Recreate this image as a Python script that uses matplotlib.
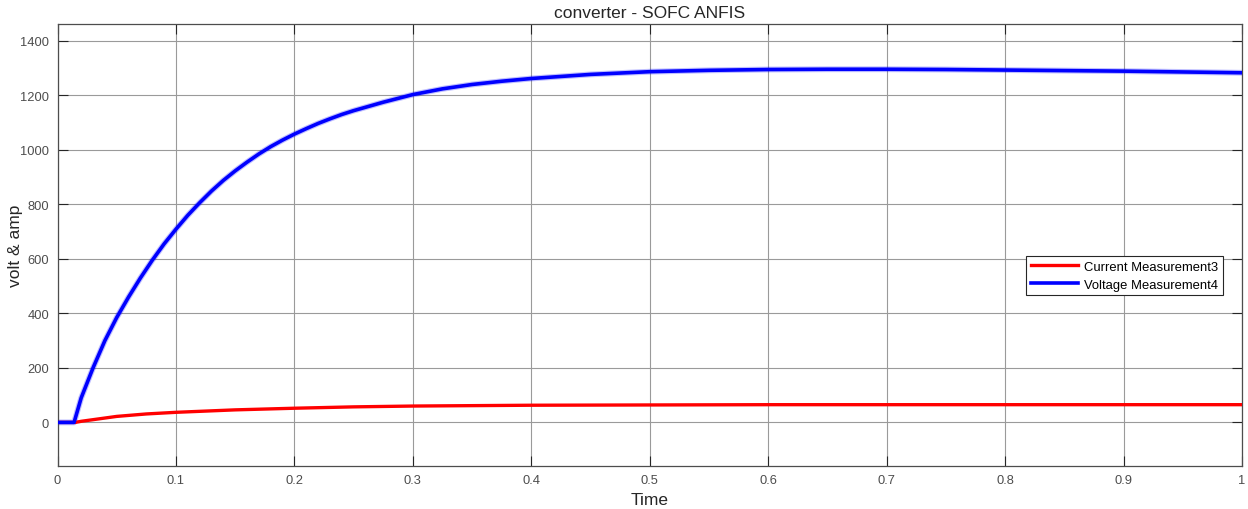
import matplotlib
matplotlib.use("Agg")
import matplotlib.pyplot as plt

# ---- data ----
t_voltage = [0.0, 0.014, 0.02, 0.03, 0.04, 0.05, 0.06, 0.07, 0.08, 0.09, 0.1,
             0.11, 0.12, 0.13, 0.14, 0.15, 0.16, 0.17, 0.18, 0.19, 0.2,
             0.21, 0.22, 0.23, 0.24, 0.25, 0.275, 0.3, 0.325, 0.35, 0.375, 0.4,
             0.45, 0.5, 0.55, 0.6, 0.65, 0.7, 0.75, 0.8, 0.85, 0.9, 0.95, 1.0]
voltage = [0.0, 0.0, 90, 200, 300, 385, 460, 530, 595, 655, 709,
           760, 806, 849, 888, 923, 955, 985, 1012, 1036, 1058,
           1078, 1097, 1114, 1130, 1144, 1175, 1203, 1224, 1240, 1252, 1262,
           1277, 1287, 1292, 1295, 1296, 1296, 1295, 1293, 1291, 1289, 1286, 1283]

t_current = [0.0, 0.015, 0.02, 0.03, 0.04, 0.05, 0.075, 0.1, 0.15, 0.2, 0.25, 0.3, 0.4, 0.5, 0.6, 0.7, 0.8, 0.9, 1.0]
current = [0.0, 0.0, 4, 10, 16, 22, 31, 37, 46, 52, 57, 60, 63, 64, 65, 65, 65, 65, 65]

series_labels = ["Current Measurement3", "Voltage Measurement4"]
title = "converter - SOFC ANFIS"
xlabel = "Time"
ylabel = "volt & amp"
xticks = [0, 0.1, 0.2, 0.3, 0.4, 0.5, 0.6, 0.7, 0.8, 0.9, 1.0]
xtick_labels = ["0", "0.1", "0.2", "0.3", "0.4", "0.5", "0.6", "0.7", "0.8", "0.9", "1"]
yticks = [0, 200, 400, 600, 800, 1000, 1200, 1400]

plt.rcParams['font.family'] = ['Liberation Sans', 'DejaVu Sans']

fig = plt.figure(figsize=(12.48, 5.10), dpi=100)
ax = fig.add_axes([57.5 / 1248, 1 - 467 / 510, (1242 - 57.5) / 1248, (467 - 25) / 510])

ax.plot(t_current, current, color="#ff0000", lw=2.4, label=series_labels[0], zorder=3)
ax.plot(t_voltage, voltage, color="#0000ff", lw=2.6, label=series_labels[1], zorder=3)
# faint fuzz from ripple on the voltage trace
ax.plot(t_voltage, voltage, color="#0000ff", lw=4.2, alpha=0.25, zorder=2)

ax.set_xlim(0, 1)
ax.set_ylim(-160, 1462)
ax.set_xticks(xticks)
ax.set_xticklabels(xtick_labels)
ax.set_yticks(yticks)

ax.grid(True, color="#9a9a9a", lw=0.8)
ax.set_axisbelow(True)
for s in ax.spines.values():
    s.set_color("#4d4d4d")
    s.set_linewidth(0.9)
ax.tick_params(direction="in", length=7, width=0.8, color="#262626",
               top=True, right=True, labelsize=9.3, labelcolor="#4d4d4d", pad=6)

ax.set_title(title, fontsize=12.5, color="#262626", pad=5)
ax.set_xlabel(xlabel, fontsize=12.5, color="#262626", labelpad=4)
ax.set_ylabel(ylabel, fontsize=12.5, color="#262626", labelpad=-2)

leg = ax.legend(loc="upper right", bbox_to_anchor=(1223 / 1248, 1 - 257 / 510),
                bbox_transform=fig.transFigure, fontsize=9.4, frameon=True, fancybox=False,
                edgecolor="#262626", framealpha=1, handlelength=3.6, borderpad=0.35,
                labelspacing=0.45, handletextpad=0.5, borderaxespad=0)
leg.get_frame().set_linewidth(0.8)

fig.savefig("out.png", dpi=100)
